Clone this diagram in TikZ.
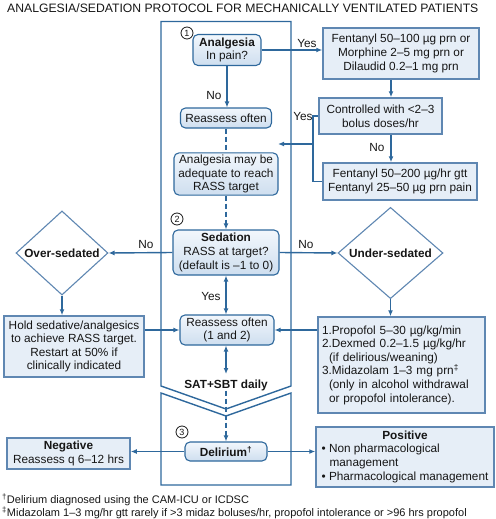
\documentclass[tikz,border=0pt]{standalone}
\usepackage{fontspec}
\setmainfont{Liberation Sans}
\usetikzlibrary{shapes.geometric,arrows.meta}
\definecolor{ln}{RGB}{46,104,156}
\definecolor{bd}{RGB}{95,135,178}
\definecolor{fl}{RGB}{230,238,247}
\definecolor{rtop}{RGB}{242,247,252}
\definecolor{rbot}{RGB}{206,222,239}
\definecolor{tx}{RGB}{22,22,22}
\begin{document}
\begin{tikzpicture}[x=1pt,y=-1pt,
  base/.style={font=\fontsize{11.8}{13.6}\selectfont, text=tx},
  sq/.style={base, draw=bd, line width=1.5pt, fill=fl, inner sep=2pt, align=center},
  rd/.style={base, draw=ln, line width=1.1pt, top color=rtop, bottom color=rbot, rounded corners=5pt, inner sep=2pt, align=center},
  dia/.style={diamond, draw=bd, line width=1.1pt, fill=white, inner sep=0pt, text=tx, font=\fontsize{11.8}{13.6}\selectfont\bfseries},
  num/.style={circle, draw=tx, line width=0.8pt, inner sep=0pt, minimum size=12pt, text=tx, font=\fontsize{9}{9}\selectfont},
  lbl/.style={base, inner sep=0pt},
  arr/.style={draw=ln, line width=1.4pt, -{Latex[length=6pt,width=5pt]}},
  darr/.style={draw=ln, line width=1.4pt, {Latex[length=6pt,width=5pt]}-{Latex[length=6pt,width=5pt]}},
  ln/.style={draw=ln, line width=1.4pt},
  dsh/.style={draw=ln, line width=1.4pt, dash pattern=on 5pt off 3pt}
]
\useasboundingbox (0,0) rectangle (495,519);

% title
\node[lbl, anchor=base west, font=\fontsize{12.2}{14}\selectfont] (title) at (7,12.5) {ANALGESIA/SEDATION PROTOCOL FOR MECHANICALLY VENTILATED PATIENTS};

% frame
\draw[ln] (161,21.5) -- (291,21.5) -- (291,386) -- (226,409) -- (161,386) -- cycle;
\draw[ln] (161,393) -- (226,416) -- (291,393) -- (291,485) -- (161,485) -- cycle;

% circled numbers
\node[num] (n1) at (187,33) {1};
\node[num] (n2) at (177,219) {2};
\node[num] (n3) at (182,432) {3};

% nodes
\node[rd, minimum width=68pt, minimum height=31pt] (analg) at (227,50) {\textbf{Analgesia}\\In pain?};
\node[sq, minimum width=156pt, minimum height=51pt] (fent1) at (401,53.5) {Fentanyl 50–100 µg prn or\\Morphine 2–5 mg prn or\\Dilaudid 0.2–1 mg prn};
\node[sq, minimum width=123pt, minimum height=36pt] (ctrl) at (380.5,116) {Controlled with <2–3\\bolus doses/hr};
\node[sq, minimum width=154pt, minimum height=37pt] (fent2) at (400,181.5) {Fentanyl 50–200 µg/hr gtt\\Fentanyl 25–50 µg prn pain};
\node[rd, minimum width=91pt, minimum height=20pt] (reas1) at (226,118) {Reassess often};
\node[rd, minimum width=104pt, minimum height=42pt] (adeq) at (226,174) {Analgesia may be\\adequate to reach\\RASS target};
\node[rd, minimum width=106pt, minimum height=45pt] (sed) at (226,252.5) {\textbf{Sedation}\\RASS at target?\\(default is –1 to 0)};
\node[dia, minimum width=92pt, minimum height=84pt] (over) at (62,253) {Over-sedated};
\node[dia, minimum width=105pt, minimum height=90pt] (under) at (390.5,253) {Under-sedated};
\node[sq, minimum width=140pt, minimum height=61pt] (hold) at (74,346.5) {Hold sedative/analgesics\\to achieve RASS target.\\Restart at 50\% if\\clinically indicated};
\node[rd, minimum width=94pt, minimum height=30pt] (reas2) at (227,330) {Reassess often\\(1 and 2)};
\node[sq, align=left, text width=159pt, inner sep=4pt, minimum height=96pt] (list) at (401.5,365) {1.Propofol 5–30 µg/kg/min\\2.Dexmed 0.2–1.5 µg/kg/hr\\\hspace*{7pt}(if delirious/weaning)\\3.Midazolam 1–3 mg prn\textsuperscript{‡}\\\hspace*{7pt}(only in alcohol withdrawal\\\hspace*{7pt}or propofol intolerance).};
\node[lbl, font=\fontsize{11.8}{13.6}\selectfont\bfseries] (sat) at (226,385) {SAT+SBT daily};
\node[rd, minimum width=82pt, minimum height=19pt] (delir) at (226,451.5) {\textbf{Delirium\textsuperscript{†}}};
\node[sq, minimum width=123pt, minimum height=31pt] (neg) at (68.5,453.5) {\textbf{Negative}\\Reassess q 6–12 hrs};
\node[sq, minimum width=178pt, minimum height=60pt] (pos) at (405,457) {\begin{tabular}{@{}l@{}}\multicolumn{1}{@{}c@{}}{\textbf{Positive}}\\• Non pharmacological\\\hspace*{8pt}management\\• Pharmacological management\end{tabular}};

% helper coordinates
\coordinate (vx) at (391,0);
\coordinate (bk) at (313,0);
\coordinate (yesstart) at (313,144);
\coordinate (yesend) at (278,144);
\coordinate (satup) at (226,374);

% connectors
\draw[arr] (analg.east) -- (fent1.west |- analg.east);
\node[lbl] (lyes1) at (307,43) {Yes};
\draw[arr] (fent1.south -| vx) -- (ctrl.north -| vx);
\draw[arr] (ctrl.south -| vx) -- (fent2.north -| vx);
\node[lbl] (lno2) at (377,147) {No};
\draw[ln] (ctrl.west) -- (ctrl.west -| bk) -- (bk |- fent2.west) -- (fent2.west);
\draw[arr] (yesstart) -- (yesend);
\node[lbl] (lyes2) at (303,116) {Yes};
\draw[arr] (analg.south) -- (reas1.north -| analg.south);
\node[lbl] (lno1) at (214,95) {No};
\draw[dsh] (reas1.south) -- (adeq.north);
\draw[dsh, -{Latex[length=6pt,width=5pt]}] (adeq.south) -- (sed.north);
\draw[arr] (sed.west) -- (over.east);
\node[lbl] (lno3) at (146,244) {No};
\draw[arr] (sed.east) -- (under.west);
\node[lbl] (lno4) at (306,244) {No};
\draw[arr] (over.south) -- (hold.north -| over.south);
\draw[arr] (under.south) -- (list.north -| under.south);
\draw[arr] (hold.east |- reas2.west) -- (reas2.west);
\draw[arr] (list.west |- reas2.east) -- (reas2.east);
\draw[darr] (sed.south) -- (reas2.north -| sed.south);
\node[lbl] (lyes3) at (211,296) {Yes};
\draw[darr] (reas2.south -| satup) -- (satup);
\draw[dsh, -{Latex[length=6pt,width=5pt]}] (sat.south) -- (delir.north);
\draw[arr] (delir.west) -- (neg.east |- delir.west);
\draw[arr] (delir.east) -- (pos.west |- delir.east);

% footnotes
\node[lbl, anchor=base west, font=\fontsize{11}{12}\selectfont] (fn1) at (2,503.5) {\textsuperscript{†}Delirium diagnosed using the CAM-ICU or ICDSC};
\node[lbl, anchor=base west, font=\fontsize{11}{12}\selectfont] (fn2) at (2,516.5) {\textsuperscript{‡}Midazolam 1–3 mg/hr gtt rarely if >3 midaz boluses/hr, propofol intolerance or >96 hrs propofol};
\end{tikzpicture}
\end{document}
